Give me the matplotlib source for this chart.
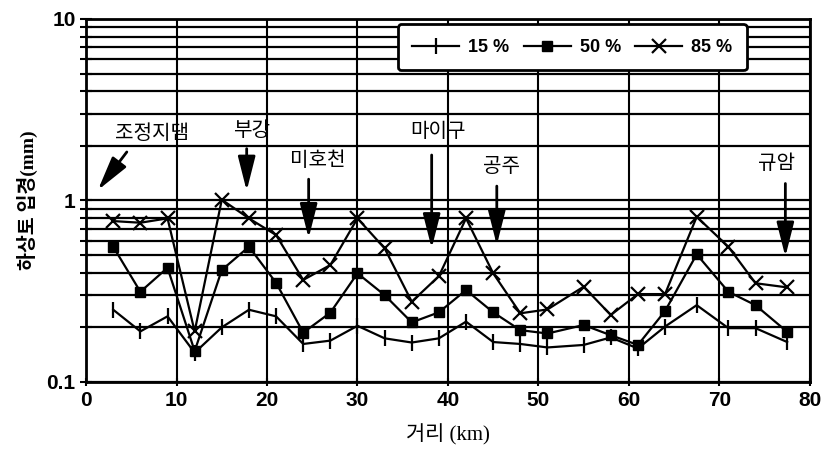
import matplotlib
matplotlib.use('Agg')
import matplotlib.pyplot as plt
from matplotlib.ticker import LogLocator, NullFormatter, FixedLocator

# distance along the river (km)
dist = [3, 6, 9, 12, 15, 18, 21, 24, 27, 30, 33, 36, 39, 42, 45, 48, 51,
        55, 58, 61, 64, 67.5, 71, 74, 77.5]

# grain size (mm) for each percentile
d15 = [0.25, 0.19, 0.23, 0.145, 0.20, 0.25, 0.23, 0.162, 0.169, 0.204, 0.174, 0.165, 0.174,
       0.215, 0.166, 0.162, 0.155, 0.16, 0.176, 0.153, 0.202, 0.265, 0.198, 0.198, 0.166]
d50 = [0.556, 0.314, 0.426, 0.148, 0.414, 0.556, 0.352, 0.187, 0.241, 0.397, 0.301, 0.213, 0.242,
       0.321, 0.242, 0.193, 0.185, 0.206, 0.181, 0.16, 0.246, 0.505, 0.314, 0.265, 0.189]
d85 = [0.77, 0.754, 0.797, 0.19, 1.01, 0.797, 0.645, 0.365, 0.441, 0.797, 0.545, 0.277, 0.383,
       0.797, 0.397, 0.239, 0.251, 0.335, 0.234, 0.305, 0.305, 0.813, 0.556, 0.35, 0.332]

# site labels: text position and arrow (tail -> head)
sites = ['조정지댐', '부강', '미호천', '마이구', '공주', '규암']
text_xy = [(7.3, 2.35), (18.3, 2.44), (25.6, 1.67), (38.9, 2.39), (45.9, 1.53), (76.3, 1.60)]
arrow_from = [(4.5, 1.85), (17.75, 1.93), (24.6, 1.31), (38.2, 1.78), (45.4, 1.20), (77.3, 1.24)]
arrow_to = [(1.3, 1.14), (17.75, 1.13), (24.6, 0.62), (38.2, 0.545), (45.4, 0.568), (77.3, 0.49)]

kr = ['Noto Sans CJK KR', 'DejaVu Sans']
serif_kr = ['Liberation Serif', 'Noto Sans CJK KR']
num_font = ['Liberation Sans Narrow', 'Liberation Sans']

fig = plt.figure(figsize=(8.28, 4.51), dpi=100)
ax = fig.add_axes([0.104, 0.153, 0.874, 0.805])

ax.plot(dist, d15, color='black', lw=1.6, marker='|', ms=11, mew=1.6, label='15 %')
ax.plot(dist, d50, color='black', lw=1.6, marker='s', ms=7, label='50 %')
ax.plot(dist, d85, color='black', lw=1.6, marker='x', ms=10, mew=1.6, label='85 %')

ax.set_yscale('log')
ax.set_xlim(0, 80)
ax.set_ylim(0.1, 10)
ax.xaxis.set_major_locator(FixedLocator(range(0, 81, 10)))
ax.yaxis.set_major_locator(FixedLocator([0.1, 1, 10]))
ax.yaxis.set_major_formatter(plt.FuncFormatter(lambda v, p: '%g' % v))
ax.yaxis.set_minor_locator(LogLocator(base=10, subs=range(2, 10)))
ax.yaxis.set_minor_formatter(NullFormatter())

ax.grid(True, which='both', axis='y', color='black', lw=1.6)
ax.grid(True, which='major', axis='x', color='black', lw=1.5)
for s in ax.spines.values():
    s.set_linewidth(2)

ax.tick_params(axis='y', which='both', direction='inout', length=8, width=1.5)
ax.tick_params(axis='x', direction='inout', length=6, width=1.5)
for lab in ax.get_xticklabels() + ax.get_yticklabels():
    lab.set_family(num_font)
    lab.set_fontsize(15)
    lab.set_fontweight('bold')

ax.set_xlabel('거리 (km)', family=serif_kr, fontsize=15, labelpad=10)
ax.set_ylabel('하상토 입경(mm)', family=serif_kr, fontsize=14, fontweight='bold', labelpad=6)

for name, t, a, b in zip(sites, text_xy, arrow_from, arrow_to):
    ax.text(t[0], t[1], name, family=kr, fontsize=14.5, ha='center', va='center')
    ax.annotate('', xy=b, xytext=a,
                arrowprops=dict(arrowstyle='-|>,head_length=1.5,head_width=0.38',
                                color='black', lw=2, mutation_scale=14,
                                shrinkA=0, shrinkB=0))

leg = ax.legend(ncol=3, loc='upper right', bbox_to_anchor=(0.913, 0.985),
                borderaxespad=0,
                prop={'family': num_font, 'size': 13, 'weight': 'bold'},
                frameon=True, fancybox=True, framealpha=1, edgecolor='black',
                handlelength=2.6, handletextpad=0.5, columnspacing=0.8,
                borderpad=0.8)
leg.get_frame().set_linewidth(2)

fig.savefig('out.png', dpi=100)
